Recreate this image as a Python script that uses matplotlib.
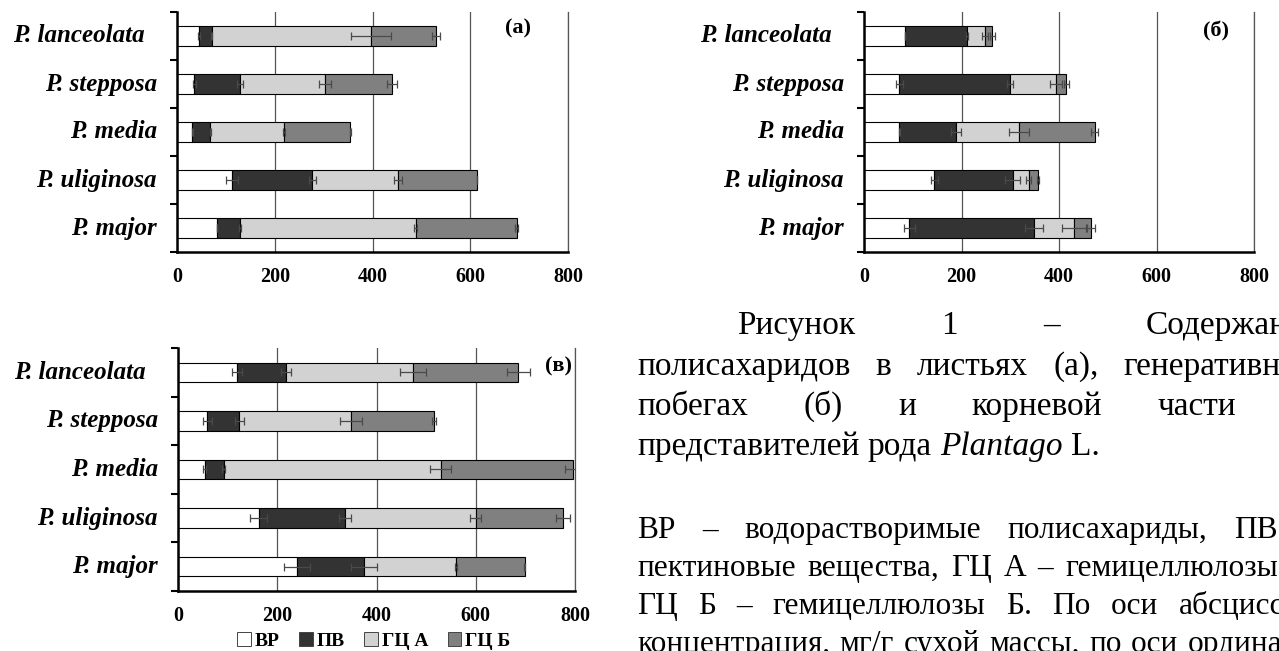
import matplotlib
matplotlib.use('Agg')
import matplotlib.pyplot as plt
import matplotlib.transforms as mtransforms
from matplotlib.patches import Patch
import numpy as np

W, H = 1279, 651
SERIF = 'Liberation Serif'

# ---------------- data ----------------
categories = ['P. lanceolata', 'P. stepposa', 'P. media', 'P. uliginosa', 'P. major']
series_names = ['ВР', 'ПВ', 'ГЦ А', 'ГЦ Б']
series_colors = ['#ffffff', '#333333', '#d2d2d2', '#808080']
xtick_values = [0, 200, 400, 600, 800]

# (а) leaves
a_vr = [45, 35, 31, 112, 82]
a_pv = [26, 94, 37, 165, 47]
a_gca = [326, 174, 151, 175, 359]
a_gcb = [133, 137, 135, 162, 207]
a_vr_err = [3, 3, 1, 12, 0]
a_pv_err = [1, 6, 1, 7, 2]
a_gca_err = [40, 13, 2, 8, 3]
a_gcb_err = [9, 10, 1, 0, 3]

# (б) generative shoots
b_vr = [84, 72, 72, 144, 93]
b_pv = [128, 227, 117, 161, 256]
b_gca = [37, 95, 129, 33, 82]
b_gcb = [14, 21, 155, 18, 35]
b_vr_err = [0, 7, 1, 7, 11]
b_pv_err = [2, 6, 10, 15, 18]
b_gca_err = [6, 13, 20, 5, 24]
b_gcb_err = [5, 5, 7, 2, 8]

# (в) roots
c_vr = [118, 59, 54, 163, 240]
c_pv = [99, 64, 38, 173, 135]
c_gca = [257, 225, 437, 264, 186]
c_gcb = [212, 167, 267, 175, 138]
c_vr_err = [10, 9, 3, 17, 27]
c_pv_err = [10, 9, 3, 12, 26]
c_gca_err = [26, 22, 21, 11, 2]
c_gcb_err = [23, 4, 16, 14, 1]

panels = [
    dict(box=(177, 12, 568, 252), label='(а)', lab_pos=(697, -0.15),
         vals=[a_vr, a_pv, a_gca, a_gcb], errs=[a_vr_err, a_pv_err, a_gca_err, a_gcb_err]),
    dict(box=(864, 12, 1254, 252), label='(б)', lab_pos=(722, -0.1),
         vals=[b_vr, b_pv, b_gca, b_gcb], errs=[b_vr_err, b_pv_err, b_gca_err, b_gcb_err]),
    dict(box=(178, 348, 575, 591), label='(в)', lab_pos=(766, -0.12),
         vals=[c_vr, c_pv, c_gca, c_gcb], errs=[c_vr_err, c_pv_err, c_gca_err, c_gcb_err]),
]

fig = plt.figure(figsize=(W / 100, H / 100), dpi=100)
fig.patch.set_facecolor('white')


def px_axes(l, t, r, b):
    return fig.add_axes([l / W, 1 - b / H, (r - l) / W, (b - t) / H])


for p in panels:
    ax = px_axes(*p['box'])
    y = np.arange(len(categories))
    left = np.zeros(len(categories))
    for vals, errs, col in zip(p['vals'], p['errs'], series_colors):
        vals = np.array(vals, dtype=float)
        ax.barh(y, vals, left=left, height=0.4, color=col, edgecolor='black',
                linewidth=0.8, zorder=2)
        right = left + vals
        ax.errorbar(right, y, xerr=errs, fmt='none', ecolor='#4a4a4a',
                    elinewidth=0.9, capsize=2.8, capthick=0.9, zorder=3)
        left = right
    ax.set_xlim(0, 800)
    ax.set_ylim(4.5, -0.5)
    ax.set_axisbelow(True)
    ax.xaxis.grid(True, color='#555555', linewidth=0.9)
    ax.spines['top'].set_visible(False)
    ax.spines['right'].set_color('#555555')
    ax.spines['right'].set_linewidth(0.9)
    for s in ('left', 'bottom'):
        ax.spines[s].set_linewidth(1.8)
        ax.spines[s].set_color('black')
    ax.set_xticks(xtick_values)
    ax.set_xticks([0, 800], minor=True)
    ax.tick_params(axis='x', which='major', length=0, pad=11)
    ax.tick_params(axis='x', which='minor', length=3.5, width=1.5, direction='out')
    for lab in ax.get_xticklabels():
        lab.set_fontfamily(SERIF)
        lab.set_fontweight('bold')
        lab.set_fontsize(14.5)
    ax.set_yticks([])
    ax.set_yticks(np.arange(-0.5, 5, 1.0), minor=True)
    ax.tick_params(axis='y', which='minor', length=5, width=1.5, direction='out')
    for i, cat in enumerate(categories):
        off = 23 if 'lanceolata' in cat else 14.5
        tr = mtransforms.offset_copy(ax.get_yaxis_transform(), fig=fig, x=-off, y=0, units='points')
        ax.text(0, i, cat, transform=tr, ha='right', va='center', fontfamily=SERIF,
                fontweight='bold', fontstyle='italic', fontsize=18)
    ax.text(p['lab_pos'][0], p['lab_pos'][1], p['label'], ha='center', va='center',
            fontfamily=SERIF, fontweight='bold', fontsize=16, zorder=4)

# legend below panel (в)
handles = [Patch(facecolor=c, edgecolor='#444444', linewidth=0.7) for c in series_colors]
fig.legend(handles, series_names, loc='center', bbox_to_anchor=(374 / W, 1 - 641 / H),
           ncol=4, frameon=False, handlelength=0.7, handleheight=0.7,
           handletextpad=0.2, columnspacing=1.0, borderpad=0,
           prop=dict(family=SERIF, weight='bold', size=14))

# ---------------- caption text ----------------
renderer = fig.canvas.get_renderer()


def put_line(words, x0, ybase, size, x1=None, styles=None):
    styles = styles or ['normal'] * len(words)
    ts = []
    for w, st in zip(words, styles):
        t = fig.text(0, 0, w, fontsize=size, fontfamily=SERIF, fontstyle=st,
                     ha='left', va='baseline')
        ts.append(t)
    widths = [t.get_window_extent(renderer).width for t in ts]
    if x1 is not None and len(words) > 1:
        gap = (x1 - x0 - sum(widths)) / (len(words) - 1)
    else:
        gap = size * 100 / 72 * 0.25
    x = x0
    for t, w in zip(ts, widths):
        t.set_position((x / W, 1 - ybase / H))
        x += w + gap


RM = 1320
cap = 24
put_line(['Рисунок', '1', '–', 'Содержание'], 737, 334, cap, RM)
put_line(['полисахаридов', 'в', 'листьях', '(а),', 'генеративных'], 637, 375, cap, RM)
put_line(['побегах', '(б)', 'и', 'корневой', 'части', '(в)'], 637, 415, cap, 1330)
put_line(['представителей', 'рода', 'Plantago', 'L.'], 637, 455, cap,
         styles=['normal', 'normal', 'italic', 'normal'])

nt = 22.6
put_line(['ВР', '–', 'водорастворимые', 'полисахариды,', 'ПВ', '–'], 637, 538, nt, RM)
put_line(['пектиновые', 'вещества,', 'ГЦ', 'А', '–', 'гемицеллюлозы', 'А,'], 637, 576, nt, RM)
put_line(['ГЦ', 'Б', '–', 'гемицеллюлозы', 'Б.', 'По', 'оси', 'абсцисс', '–'], 637, 614, nt, RM)
put_line(['концентрация,', 'мг/г', 'сухой', 'массы,', 'по', 'оси', 'ординат', '–'], 637, 652, nt, RM)

fig.savefig('out.png', dpi=100, facecolor='white')
